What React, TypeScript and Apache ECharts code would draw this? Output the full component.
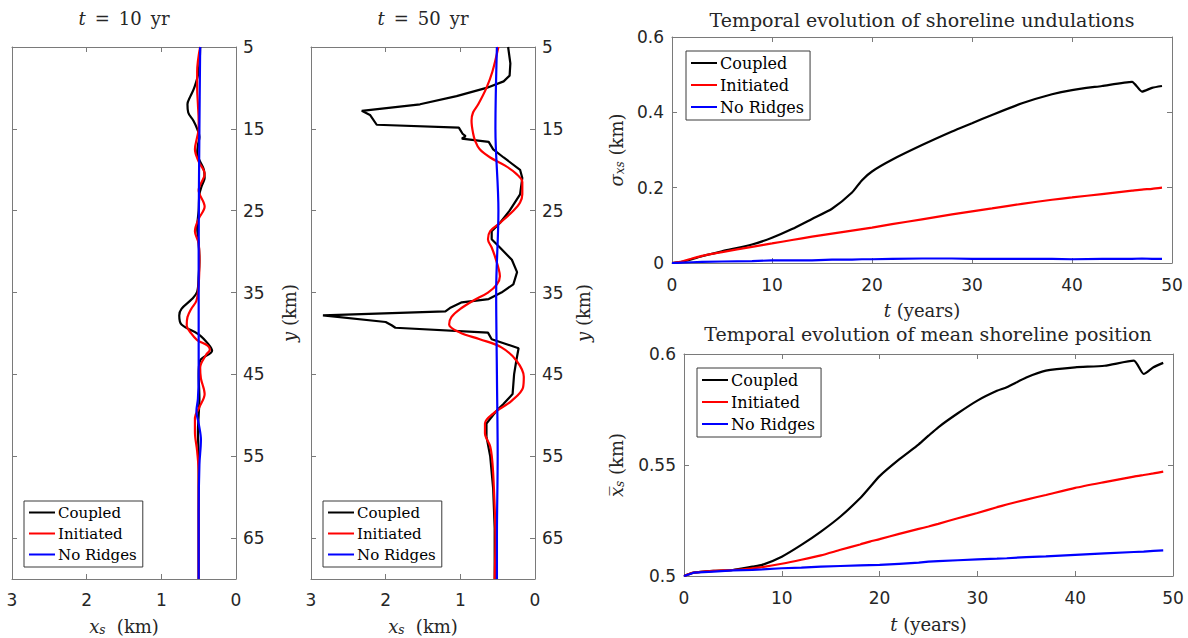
import React, { useEffect, useRef } from "react";
import * as echarts from "echarts";

const seriesNames = ["Coupled", "Initiated", "No Ridges"];
const seriesColors = ["#000000", "#ff0000", "#0000ff"];

const alongshoreTicks = [5, 15, 25, 35, 45, 55, 65];

// ---- t = 10 yr profiles (x_s in km vs y in km)
const y10Coupled = [5, 8, 10, 11, 12, 13, 14, 15, 16, 17, 18, 19, 20, 21, 22, 23, 25, 27, 29, 31, 33, 34.9, 35.8, 37, 37.8, 38.9, 40.1, 41.3, 42.1, 43.3, 45, 48, 50, 52, 55, 60, 65, 70];
const x10Coupled = [0.48, 0.5, 0.56, 0.61, 0.65, 0.64, 0.57, 0.52, 0.49, 0.51, 0.52, 0.48, 0.43, 0.42, 0.46, 0.49, 0.5, 0.52, 0.5, 0.49, 0.5, 0.52, 0.59, 0.73, 0.76, 0.73, 0.5, 0.37, 0.32, 0.48, 0.5, 0.49, 0.5, 0.51, 0.5, 0.5, 0.5, 0.5];
const y10Initiated = [5, 8, 10, 12, 14, 15, 16, 17.5, 19, 20.5, 22.5, 24.5, 26, 27.5, 29, 31, 34, 36, 37, 38, 39, 40, 40.8, 41.5, 42, 42.6, 44.2, 45.5, 47.4, 49, 50.3, 52, 54.4, 57, 60, 65, 70];
const x10Initiated = [0.48, 0.52, 0.52, 0.51, 0.5, 0.5, 0.52, 0.55, 0.5, 0.42, 0.5, 0.42, 0.5, 0.55, 0.5, 0.49, 0.5, 0.53, 0.6, 0.65, 0.66, 0.6, 0.52, 0.38, 0.35, 0.4, 0.48, 0.47, 0.42, 0.49, 0.55, 0.55, 0.52, 0.5, 0.5, 0.5, 0.5];
const y10NoRidges = [5, 15, 30, 45, 48, 49.5, 51, 53, 56, 62, 70];
const x10NoRidges = [0.48, 0.49, 0.5, 0.5, 0.51, 0.53, 0.5, 0.47, 0.49, 0.5, 0.5];

// ---- t = 50 yr profiles
const y50Coupled = [5, 7, 8.5, 9.2, 10, 11, 12, 12.8, 13.3, 14.5, 14.85, 15.6, 15.9, 16.2, 16.6, 17.5, 18.5, 20, 21, 23, 25, 26.5, 27.5, 28.5, 29.5, 31, 32.5, 34, 35, 35.8, 36.2, 36.9, 37.3, 37.8, 38.6, 39, 39.3, 39.9, 40.7, 41.8, 43.3, 45, 47.4, 48.6, 49.4, 51, 52.6, 55, 59, 63.8, 70];
const x50Coupled = [0.36, 0.33, 0.34, 0.42, 0.65, 1.05, 1.54, 2.32, 2.21, 2.12, 1.02, 0.97, 0.93, 0.98, 0.62, 0.56, 0.42, 0.2, 0.17, 0.2, 0.34, 0.47, 0.58, 0.58, 0.47, 0.31, 0.24, 0.29, 0.45, 0.62, 0.98, 1.14, 1.2, 2.84, 2.0, 1.92, 1.87, 0.63, 0.58, 0.22, 0.25, 0.28, 0.3, 0.42, 0.51, 0.65, 0.65, 0.6, 0.56, 0.54, 0.54];
const y50Initiated = [5, 8, 10, 12, 13, 14, 15.5, 16.5, 17.5, 18.5, 19.5, 20.5, 21.5, 23, 24, 25, 26.5, 27.5, 28.5, 29.5, 30.5, 32, 33, 34, 35, 36, 37, 38, 38.9, 39.9, 40.7, 41.7, 43.3, 45.3, 46.6, 48.2, 49.8, 51, 52.2, 53.8, 55.8, 59, 65, 70];
const x50Initiated = [0.49, 0.57, 0.65, 0.76, 0.83, 0.85, 0.83, 0.8, 0.74, 0.6, 0.4, 0.25, 0.17, 0.17, 0.2, 0.29, 0.47, 0.6, 0.63, 0.58, 0.54, 0.49, 0.47, 0.51, 0.63, 0.83, 1.0, 1.12, 1.15, 1.0, 0.74, 0.45, 0.25, 0.15, 0.16, 0.31, 0.56, 0.67, 0.67, 0.6, 0.57, 0.55, 0.53, 0.54];
const y50NoRidges = [5, 15, 25, 35, 45, 55, 65, 70];
const x50NoRidges = [0.51, 0.53, 0.49, 0.52, 0.51, 0.5, 0.51, 0.51];

// ---- temporal evolution of shoreline undulations (sigma, km)
const tSigma = [0, 1, 2, 3, 5, 8, 10, 12, 14, 16, 18, 19, 20, 22, 25, 28, 30, 32, 35, 38, 40, 43, 46, 47, 48, 49];
const sigmaCoupled = [0, 0.003, 0.01, 0.018, 0.031, 0.049, 0.067, 0.09, 0.117, 0.144, 0.187, 0.22, 0.243, 0.274, 0.313, 0.349, 0.371, 0.393, 0.424, 0.448, 0.459, 0.47, 0.481, 0.455, 0.465, 0.47];
const sigmaInitiated = [0, 0.004, 0.012, 0.019, 0.029, 0.043, 0.052, 0.061, 0.07, 0.078, 0.086, 0.09, 0.094, 0.103, 0.116, 0.129, 0.137, 0.145, 0.157, 0.168, 0.174, 0.183, 0.192, 0.195, 0.197, 0.2];
const sigmaNoRidges = [0, 0.001, 0.002, 0.003, 0.004, 0.005, 0.007, 0.007, 0.007, 0.009, 0.009, 0.01, 0.01, 0.011, 0.012, 0.012, 0.011, 0.011, 0.011, 0.011, 0.01, 0.011, 0.011, 0.012, 0.011, 0.011];

// ---- temporal evolution of mean shoreline position (km)
const tMean = [0, 1, 3, 5, 7, 8, 10, 12, 14, 16, 18, 19, 20, 22, 24, 25, 26, 28, 30, 32, 33, 35, 37, 40, 43, 46, 47, 48, 49];
const meanCoupled = [0.5, 0.5015, 0.5023, 0.5027, 0.5042, 0.505, 0.5087, 0.514, 0.52, 0.5268, 0.535, 0.54, 0.545, 0.5525, 0.5593, 0.5632, 0.567, 0.5733, 0.579, 0.5834, 0.585, 0.5894, 0.5925, 0.594, 0.5947, 0.597, 0.591, 0.594, 0.596];
const meanInitiated = [0.5, 0.5015, 0.5023, 0.5027, 0.5035, 0.504, 0.5055, 0.5073, 0.5093, 0.5118, 0.5142, 0.5155, 0.5166, 0.519, 0.5212, 0.5223, 0.5235, 0.526, 0.5284, 0.531, 0.5322, 0.5344, 0.5365, 0.5397, 0.5423, 0.5448, 0.5455, 0.5462, 0.547];
const meanNoRidges = [0.5, 0.5015, 0.502, 0.5025, 0.5028, 0.503, 0.5035, 0.5038, 0.5042, 0.5045, 0.5048, 0.5049, 0.505, 0.5055, 0.506, 0.5065, 0.5067, 0.5071, 0.5075, 0.5078, 0.508, 0.5085, 0.5088, 0.5095, 0.5102, 0.5108, 0.511, 0.5113, 0.5115];

const SERIF = "'DejaVu Serif', 'Liberation Serif', serif";
const SANS = "'DejaVu Sans', 'Liberation Sans', sans-serif";
const TXT = "#262626";
const AXC = "#7a7a7a";

const zip = (a: number[], b: number[]) => a.map((v, i) => [v, b[i]]);

const rich = (fs: number) => ({
  i: { fontFamily: SERIF, fontStyle: "italic", fontSize: fs, color: TXT, lineHeight: fs + 2 },
  n: { fontFamily: SERIF, fontSize: fs, color: TXT, lineHeight: fs + 2 },
  s: { fontFamily: SERIF, fontStyle: "italic", fontSize: Math.round(fs * 0.68), color: TXT, lineHeight: Math.round(fs * 0.68), verticalAlign: "bottom" },
});

const nameStyle = { fontFamily: SERIF, fontSize: 18, color: TXT, lineHeight: 20, rich: rich(18) };

function axis(gridIndex: number, o: any, mirror: boolean) {
  const base: any = {
    gridIndex,
    type: "value",
    min: o.min,
    max: o.max,
    inverse: !!o.inverse,
    position: o.position,
    axisLine: { show: true, onZero: false, lineStyle: { color: AXC, width: 1 } },
    axisTick: { show: true, inside: true, length: 5, lineStyle: { color: AXC } },
    axisLabel: { show: !mirror, fontFamily: SANS, fontSize: 17, color: TXT, margin: o.margin ?? 8 },
    splitLine: { show: false },
  };
  if (o.interval !== undefined) base.interval = o.interval;
  if (o.ticks) {
    base.axisTick.customValues = o.ticks;
    base.axisLabel.customValues = o.ticks;
  }
  if (!mirror && o.name) {
    base.name = o.name;
    base.nameLocation = "middle";
    base.nameGap = o.nameGap;
    if (o.nameRotate !== undefined) base.nameRotate = o.nameRotate;
    base.nameTextStyle = nameStyle;
  }
  return base;
}

function legend(left: number, top: number, fs: number, gap: number) {
  return {
    left,
    top,
    orient: "vertical",
    data: seriesNames,
    icon: "rect",
    itemWidth: 26,
    itemHeight: 2,
    itemGap: gap,
    padding: [4, 6, 5, 5],
    backgroundColor: "#ffffff",
    borderColor: "#3a3a3a",
    borderWidth: 1,
    borderRadius: 0,
    selectedMode: false,
    textStyle: { fontFamily: SERIF, fontSize: fs, color: "#000", padding: [0, 0, 0, -2] },
  };
}

function title(text: string, cx: number, cy: number, fs: number) {
  return {
    text,
    left: cx,
    top: cy - (fs + 2) / 2,
    textAlign: "center",
    padding: 0,
    textStyle: { fontFamily: SERIF, fontSize: fs, fontWeight: "normal", color: "#000", lineHeight: fs + 2, rich: rich(fs) },
  };
}

function line(name: string, idx: number, data: number[][], axisIdx: number, smooth: number | boolean) {
  return {
    type: "line",
    name,
    data,
    xAxisIndex: axisIdx,
    yAxisIndex: axisIdx,
    symbol: "none",
    smooth,
    lineStyle: { color: seriesColors[idx], width: 2.2 },
    itemStyle: { color: seriesColors[idx] },
    silent: true,
    clip: true,
  };
}

export default function App() {
  const ref = useRef<HTMLDivElement>(null);
  useEffect(() => {
    if (!ref.current) return;
    const chart = echarts.init(ref.current, null, { renderer: "svg" });
    const xsName = "{i|x}{s|s}{n|  (km)}";
    const yName = "{i|y}{n| (km)}";
    const profX = (g: number, mirror: boolean) =>
      axis(g, { min: 0, max: 3, interval: 1, inverse: true, position: mirror ? "top" : "bottom", margin: 12, name: xsName, nameGap: 37 }, mirror);
    const profY = (g: number, mirror: boolean, gap: number) =>
      axis(g, { min: 5, max: 70, inverse: true, ticks: alongshoreTicks, position: mirror ? "left" : "right", margin: 7, name: yName, nameGap: gap, nameRotate: 90 }, mirror);
    const tX = (g: number, mirror: boolean, gap: number) =>
      axis(g, { min: 0, max: 50, interval: 10, position: mirror ? "top" : "bottom", margin: 13, name: "{i|t}{n| (years)}", nameGap: gap }, mirror);

    const option: any = {
      animation: false,
      backgroundColor: "#ffffff",
      title: [
        title("{i|t}{n|\u2002=\u200210\u2002yr}", 124, 18, 18),
        title("{i|t}{n|\u2002=\u200250\u2002yr}", 423, 18, 18),
        title("{n|Temporal evolution of shoreline undulations}", 922, 20, 19),
        title("{n|Temporal evolution of mean shoreline position}", 928, 334, 19),
      ],
      grid: [
        { left: 12, top: 47, width: 224, height: 532, containLabel: false, outerBoundsMode: "none" },
        { left: 311, top: 47, width: 224, height: 532, containLabel: false, outerBoundsMode: "none" },
        { left: 672, top: 37, width: 500, height: 226, containLabel: false, outerBoundsMode: "none" },
        { left: 684, top: 354, width: 489, height: 222, containLabel: false, outerBoundsMode: "none" },
      ],
      xAxis: [
        profX(0, false), profX(0, true),
        profX(1, false), profX(1, true),
        tX(2, false, 37), tX(2, true, 37),
        tX(3, false, 38), tX(3, true, 38),
      ],
      yAxis: [
        profY(0, false, 43), profY(0, true, 43),
        profY(1, false, 38), profY(1, true, 38),
        axis(2, { min: 0, max: 0.6, interval: 0.2, position: "left", margin: 8, name: "{i|σ}{s|xs}{n| (km)}", nameGap: 46, nameRotate: 90 }, false),
        axis(2, { min: 0, max: 0.6, interval: 0.2, position: "right" }, true),
        axis(3, { min: 0.5, max: 0.6, interval: 0.05, position: "left", margin: 8, name: "{i|x\u0305}{s|s}{n| (km)}", nameGap: 58, nameRotate: 90 }, false),
        axis(3, { min: 0.5, max: 0.6, interval: 0.05, position: "right" }, true),
      ],
      legend: [legend(24, 501, 15, 6), legend(323, 501, 15, 6), legend(686, 51, 16, 6), legend(697, 368, 16, 6)],
      series: [
        line(seriesNames[0], 0, zip(x10Coupled, y10Coupled), 0, 0.35),
        line(seriesNames[1], 1, zip(x10Initiated, y10Initiated), 0, 0.35),
        line(seriesNames[2], 2, zip(x10NoRidges, y10NoRidges), 0, 0.35),
        line(seriesNames[0], 0, zip(x50Coupled, y50Coupled), 2, false),
        line(seriesNames[1], 1, zip(x50Initiated, y50Initiated), 2, 0.35),
        line(seriesNames[2], 2, zip(x50NoRidges, y50NoRidges), 2, 0.35),
        line(seriesNames[0], 0, zip(tSigma, sigmaCoupled), 4, 0.2),
        line(seriesNames[1], 1, zip(tSigma, sigmaInitiated), 4, 0.2),
        line(seriesNames[2], 2, zip(tSigma, sigmaNoRidges), 4, false),
        line(seriesNames[0], 0, zip(tMean, meanCoupled), 6, 0.2),
        line(seriesNames[1], 1, zip(tMean, meanInitiated), 6, 0.2),
        line(seriesNames[2], 2, zip(tMean, meanNoRidges), 6, false),
      ],
    };
    chart.setOption(option);
    return () => chart.dispose();
  }, []);
  return <div ref={ref} style={{ position: "fixed", left: 0, top: 0, width: 1188, height: 638, background: "#fff" }} />;
}
